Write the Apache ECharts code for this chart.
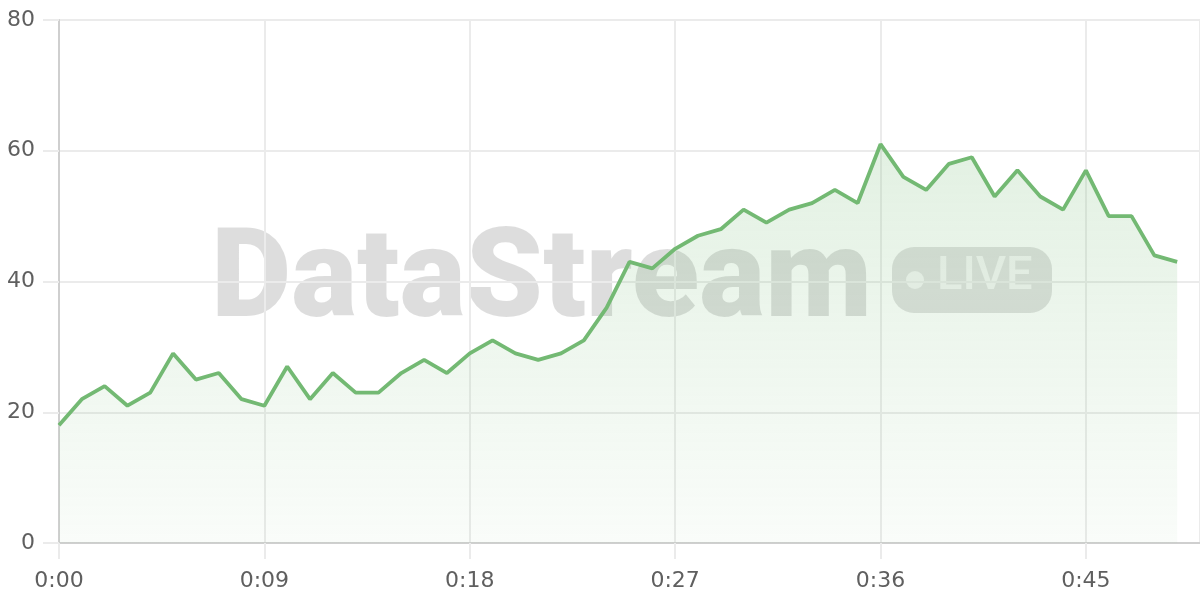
<!DOCTYPE html>
<html>
<head>
<meta charset="utf-8">
<script src="https://cdn.jsdelivr.net/npm/echarts@6/dist/echarts.min.js"></script>
<style>
  html, body { margin: 0; padding: 0; background: #fff; }
  #main { width: 1200px; height: 600px; }
</style>
</head>
<body>
<div id="main"></div>
<script>
// minutes since start
var minutes = [0, 1, 2, 3, 4, 5, 6, 7, 8, 9,
    10, 11, 12, 13, 14, 15, 16, 17, 18, 19,
    20, 21, 22, 23, 24, 25, 26, 27, 28, 29,
    30, 31, 32, 33, 34, 35, 36, 37, 38, 39,
    40, 41, 42, 43, 44, 45, 46, 47, 48, 49];
var values = [18, 22, 24, 21, 23, 29, 25, 26, 22, 21,
    27, 22, 26, 23, 23, 26, 28, 26, 29, 31,
    29, 28, 29, 31, 36, 43, 42, 45, 47, 48,
    51, 49, 51, 52, 54, 52, 61, 56, 54, 58,
    59, 53, 57, 53, 51, 57, 50, 50, 44, 43];
var xTicks = ['0:00', '0:09', '0:18', '0:27', '0:36', '0:45'];
var yTicks = [0, 20, 40, 60, 80];

var lineColor = '#73b973';
var gridColor = '#ebebeb';
var axisColor = '#cfcfcf';
var labelColor = '#5f5f5f';
var labelFont = 'DejaVu Sans';

var points = [];
for (var i = 0; i < minutes.length; i++) {
    points.push([minutes[i], values[i]]);
}

var chart = echarts.init(document.getElementById('main'));
chart.setOption({
    animation: false,
    grid: { left: 59, right: 0, top: 20, bottom: 57 },
    xAxis: {
        type: 'value',
        min: 0,
        max: 50,
        interval: 9,
        axisLine: { show: true, lineStyle: { color: axisColor, width: 2 } },
        axisTick: { show: true, length: 16, lineStyle: { color: gridColor, width: 2 } },
        splitLine: { show: true, lineStyle: { color: gridColor, width: 2 } },
        axisLabel: {
            margin: 27,
            color: labelColor,
            fontSize: 22,
            fontFamily: labelFont,
            showMaxLabel: false,
            formatter: function(v) {
                var idx = Math.round(v / 9);
                return (v % 9 === 0 && xTicks[idx]) ? xTicks[idx] : '';
            }
        }
    },
    yAxis: {
        type: 'value',
        min: yTicks[0],
        max: yTicks[yTicks.length - 1],
        interval: 20,
        axisLine: { show: true, lineStyle: { color: axisColor, width: 2 } },
        axisTick: { show: true, length: 16, lineStyle: { color: gridColor, width: 2 } },
        splitLine: { show: true, lineStyle: { color: gridColor, width: 2 } },
        axisLabel: {
            margin: 24,
            color: labelColor,
            fontSize: 22,
            fontFamily: labelFont
        }
    },
    graphic: [
        {
            type: 'text',
            z: 0,
            left: 211,
            top: 223,
            style: {
                text: 'DataStream',
                font: '900 124px Roboto',
                fill: 'rgba(0,0,0,0.135)'
            }
        },
        {
            type: 'rect',
            z: 0,
            shape: { x: 892, y: 247, width: 160, height: 66, r: 22 },
            style: { fill: 'rgba(0,0,0,0.12)' }
        },
        {
            type: 'circle',
            z: 0,
            shape: { cx: 915, cy: 280, r: 9 },
            style: { fill: 'rgba(255,255,255,0.65)' }
        },
        {
            type: 'text',
            z: 0,
            left: 937,
            top: 254,
            style: {
                text: 'LIVE',
                font: '500 47px Roboto',
                fill: 'rgba(255,255,255,0.65)'
            }
        }
    ],
    series: [{
        type: 'line',
        data: points,
        showSymbol: false,
        lineStyle: { color: lineColor, width: 3.8 },
        areaStyle: {
            color: new echarts.graphic.LinearGradient(0, 0, 0, 1, [
                { offset: 0, color: 'rgba(120,188,120,0.30)' },
                { offset: 1, color: 'rgba(120,188,120,0.06)' }
            ])
        }
    }]
});
</script>
</body>
</html>
